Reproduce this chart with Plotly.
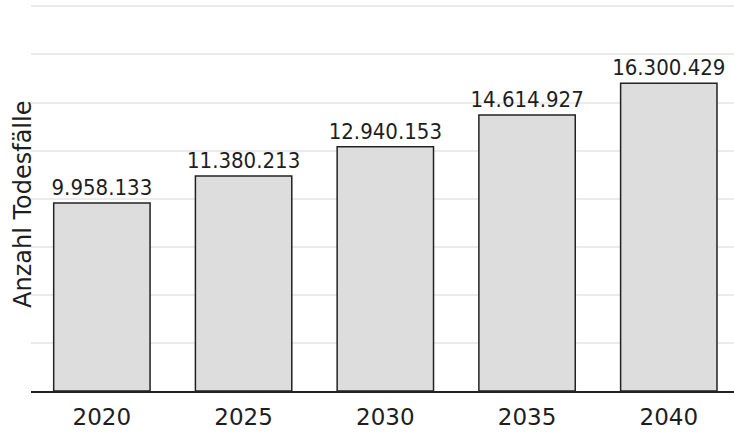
import plotly.graph_objects as go

years = ["2020", "2025", "2030", "2035", "2040"]
deaths = [9958133, 11380213, 12940153, 14614927, 16300429]
labels = ["9.958.133", "11.380.213", "12.940.153", "14.614.927", "16.300.429"]
y_title = "Anzahl Todesfälle"

W, H = 734, 436
ml, mr, mt, mb = 31, 0, 4, 45
dtick = 2.546e6
ymax = 8.05 * dtick
font_main = "DejaVu Sans, sans-serif"
font_lbl = "DejaVu Sans Condensed, sans-serif"

fig = go.Figure(go.Bar(
    x=years, y=deaths, text=labels, textposition="outside",
    constraintext="none",
    textfont=dict(family=font_lbl, size=22, color="#1e1e1e"),
    marker=dict(color="#dddddd", line=dict(color="#222222", width=1.5)),
    cliponaxis=False,
))

fig.update_layout(
    width=W, height=H,
    margin=dict(l=ml, r=mr, t=mt, b=mb),
    paper_bgcolor="white", plot_bgcolor="white",
    bargap=0.32, showlegend=False,
    font=dict(family=font_main, color="#1e1e1e"),
)
fig.update_xaxes(
    type="category", range=[-0.5, 4.46],
    showline=True, linecolor="#222222", linewidth=2,
    ticks="", tickfont=dict(family=font_main, size=23, color="#1e1e1e"),
    ticklabelstandoff=4, showgrid=False,
)
fig.update_yaxes(
    range=[0, ymax], tick0=0, dtick=dtick,
    showticklabels=False, showgrid=True,
    gridcolor="#ebebeb", gridwidth=2, zeroline=False,
)
fig.add_annotation(
    text=y_title, textangle=-90, xref="paper", yref="paper",
    x=(23 - ml) / (W - ml - mr), y=(391 - 205) / (H - mt - mb),
    xanchor="center", yanchor="middle", showarrow=False,
    font=dict(family=font_main, size=24, color="#1e1e1e"),
)

fig.write_html("out.html", config={"displayModeBar": False},
               post_script="document.body.style.margin='0px';")
